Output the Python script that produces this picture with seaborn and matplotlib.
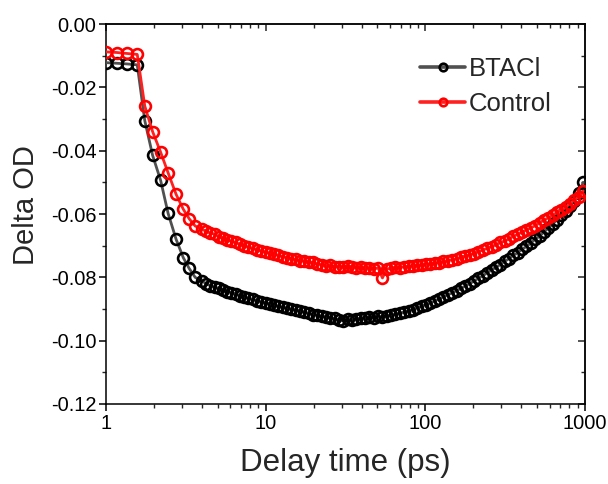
import numpy as np
import pandas as pd
import matplotlib
matplotlib.use("Agg")
import matplotlib.pyplot as plt
import matplotlib.ticker as mticker
import seaborn as sns

# delay times (ps), shared by both traces
delay = [
    1.0, 1.17, 1.35, 1.57, 1.75, 1.96, 2.2, 2.45, 2.75, 3.05, 3.32, 3.62,
    4.0, 4.25, 4.5, 4.8, 5.1, 5.4, 5.75, 6.1, 6.5, 6.9, 7.35, 7.8, 8.3, 8.85, 9.4,
    10.0, 10.6, 11.3, 12.0, 12.8, 13.6, 14.5, 15.4, 16.4, 17.5, 18.6, 19.8,
    21.1, 22.4, 23.9, 25.4, 27.0, 28.8, 30.6, 32.6, 34.7, 37.0, 39.4, 41.9, 44.6,
    47.5, 50.6, 53.9, 57.4, 61.1, 65.0, 69.2, 73.7, 78.5, 83.6, 89.0, 94.8,
    101, 107.5, 114.5, 122, 130, 138.4, 147.4, 157, 167, 178, 189.5, 202, 215,
    229, 244, 260, 277, 295, 314, 334, 356, 379, 404, 430, 458, 488, 520, 554,
    590, 628, 669, 712, 758, 807, 860, 916, 975,
]

btacl = [
    -0.0122, -0.0124, -0.0126, -0.0129, -0.0305, -0.0415, -0.0494, -0.0598, -0.0680, -0.0738, -0.0772, -0.0800,
    -0.0812, -0.0820, -0.0826, -0.0832, -0.0835, -0.0840, -0.0845, -0.0848, -0.0852, -0.0858, -0.0862, -0.0866, -0.0870, -0.0874, -0.0878,
    -0.0880, -0.0884, -0.0888, -0.0892, -0.0895, -0.0898, -0.0901, -0.0903, -0.0906, -0.0910, -0.0914, -0.0918,
    -0.0920, -0.0923, -0.0926, -0.0928, -0.0930, -0.0935, -0.0937, -0.0933, -0.0935, -0.0931, -0.0930, -0.0928, -0.0925,
    -0.0927, -0.0923, -0.0926, -0.0921, -0.0920, -0.0917, -0.0913, -0.0910, -0.0905, -0.0902, -0.0896, -0.0891,
    -0.0886, -0.0881, -0.0875, -0.0868, -0.0861, -0.0855, -0.0849, -0.0842, -0.0835, -0.0827, -0.0820, -0.0812, -0.0803,
    -0.0795, -0.0786, -0.0777, -0.0768, -0.0760, -0.0750, -0.0741, -0.0731, -0.0722, -0.0712, -0.0702, -0.0692, -0.0680, -0.0670, -0.0657,
    -0.0645, -0.0632, -0.0618, -0.0603, -0.0590, -0.0574, -0.0558, -0.0535, -0.0500,
]

control = [
    -0.0088, -0.0090, -0.0093, -0.0096, -0.0259, -0.0340, -0.0405, -0.0470, -0.0538, -0.0585, -0.0615, -0.0638,
    -0.0648, -0.0655, -0.0660, -0.0664, -0.0672, -0.0676, -0.0682, -0.0686, -0.0690, -0.0696, -0.0700, -0.0705, -0.0708, -0.0713, -0.0717,
    -0.0720, -0.0724, -0.0727, -0.0730, -0.0735, -0.0738, -0.0741, -0.0743, -0.0747, -0.0749, -0.0752, -0.0753,
    -0.0758, -0.0760, -0.0764, -0.0762, -0.0766, -0.0767, -0.0768, -0.0763, -0.0767, -0.0769, -0.0766, -0.0772, -0.0769,
    -0.0774, -0.0770, -0.0802, -0.0774, -0.0771, -0.0768, -0.0770, -0.0766, -0.0765, -0.0764, -0.0762, -0.0762,
    -0.0759, -0.0758, -0.0754, -0.0754, -0.0749, -0.0748, -0.0744, -0.0742, -0.0736, -0.0733, -0.0728, -0.0725, -0.0719,
    -0.0714, -0.0708, -0.0703, -0.0697, -0.0690, -0.0686, -0.0678, -0.0671, -0.0664, -0.0657, -0.0650, -0.0644, -0.0637, -0.0628, -0.0619,
    -0.0612, -0.0604, -0.0595, -0.0586, -0.0578, -0.0567, -0.0555, -0.0545, -0.0527,
]


def main():
    sns.set_theme(style="ticks")
    plt.rcParams['font.family'] = ['Liberation Sans', 'DejaVu Sans']

    fig = plt.figure(figsize=(6.08, 4.84), dpi=100)
    ax = fig.add_axes([0.1743, 0.1653, 0.7878, 0.7851])

    df_b = pd.DataFrame({'t': delay, 'od': btacl})
    df_c = pd.DataFrame({'t': delay, 'od': control})

    sns.lineplot(data=df_b, x='t', y='od', ax=ax, estimator=None, errorbar=None,
                 color='#505050', lw=2.0, marker='o', ms=7.8, mfc='none',
                 mec='black', mew=1.9, label='BTACl', zorder=3)
    sns.lineplot(data=df_c, x='t', y='od', ax=ax, estimator=None, errorbar=None,
                 color='#ff2020', lw=2.0, marker='o', ms=7.8, mfc='none',
                 mec='#ff0000', mew=1.9, label='Control', zorder=4)

    ax.set_xscale('log')
    ax.set_xlim(1, 1000)
    ax.set_ylim(-0.12, 0.0)
    ax.set_xticks([1, 10, 100, 1000])
    ax.xaxis.set_major_formatter(mticker.FuncFormatter(lambda v, p: f"{v:g}"))
    ax.xaxis.set_minor_locator(mticker.LogLocator(base=10, subs=np.arange(2, 10)))
    ax.xaxis.set_minor_formatter(mticker.NullFormatter())
    ax.set_yticks(np.arange(-0.12, 0.001, 0.02))
    ax.yaxis.set_minor_locator(mticker.MultipleLocator(0.01))
    ax.yaxis.set_major_formatter(mticker.FormatStrFormatter('%.2f'))

    for s in ax.spines.values():
        s.set_linewidth(1.1)
        s.set_color('black')
    ax.tick_params(which='major', direction='out', length=5, width=1.1,
                   labelsize=14.4, colors='black', pad=2)
    ax.tick_params(which='minor', direction='out', length=3, width=1.0)

    # mirrored ticks pointing inward on top and right
    top = ax.secondary_xaxis('top')
    top.set_xticks([1, 10, 100, 1000])
    top.xaxis.set_minor_locator(mticker.LogLocator(base=10, subs=np.arange(2, 10)))
    top.tick_params(which='major', direction='in', length=5, width=1.1, labeltop=False)
    top.tick_params(which='minor', direction='in', length=3, width=1.0)
    right = ax.secondary_yaxis('right')
    right.set_yticks(np.arange(-0.12, 0.001, 0.02))
    right.yaxis.set_minor_locator(mticker.MultipleLocator(0.01))
    right.tick_params(which='major', direction='in', length=5, width=1.1, labelright=False)
    right.tick_params(which='minor', direction='in', length=3, width=1.0)
    for sp in (top.spines.values(), right.spines.values()):
        for s in sp:
            s.set_linewidth(1.1)

    ax.set_xlabel('Delay time (ps)', fontsize=22.5, labelpad=11)
    ax.set_ylabel('Delta OD', fontsize=21)
    ax.yaxis.set_label_coords(-0.137, 0.524)

    leg = ax.legend(loc='upper left', bbox_to_anchor=(0.635, 0.94), frameon=False,
                    fontsize=18.5, handlelength=1.75, handletextpad=0.15,
                    labelspacing=0.42, markerscale=0.7, borderaxespad=0)
    for h in leg.get_lines():
        h.set_linewidth(2.6)

    fig.savefig('out.png', dpi=100)
    plt.close(fig)


if __name__ == '__main__':
    main()
